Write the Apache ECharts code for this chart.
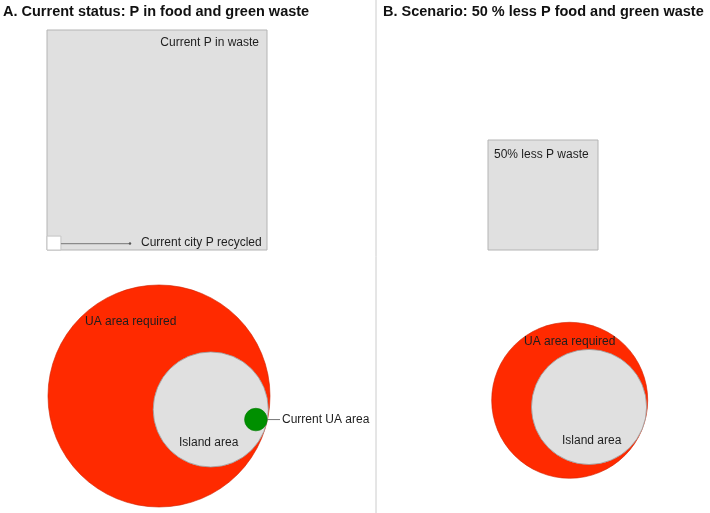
<!DOCTYPE html>
<html><head><meta charset="utf-8">
<script src="https://cdn.jsdelivr.net/npm/echarts@6/dist/echarts.min.js"></script>
<style>html,body{margin:0;padding:0;background:#fff}#c{width:710px;height:513px}</style>
</head><body><div id="c"></div>
<script>
// ---------- data (areas in % of current P in waste) ----------
const panelTitles = ['A. Current status: P in food and green waste', 'B. Scenario: 50 % less P food and green waste'];
const wasteLabels = ['Current P in waste', '50% less P waste'];
const pInWaste = [100, 25];
const recycledLabel = 'Current city P recycled';
const pRecycled = [0.4];
const uaLabels = ['UA area required', 'UA area required'];
const uaRequired = [80, 39.5];
const islandLabels = ['Island area', 'Island area'];
const islandArea = [21.5, 21.5];
const currentUALabel = 'Current UA area';
const currentUA = [0.83];

// ---------- layout ----------
const W = 710, H = 513;
const AREA_UNIT = 484;            // axis units^2 per value unit
const FONT = '12px "Liberation Sans", Arial, sans-serif';
const TXT = '#1e1e1e';
const L = {
  squareLeft: [47, 488], squareBottom: 250,
  wasteLabelOff: [[-8, 13, 'right', 'tr'], [6, 15, 'left', 'tl']],
  recycledLeaderEnd: 130, recycledLabelX: 141,
  circleCenter: [[159, 396], [569.7, 400.3]],
  islandAngle: [14.6, 19],
  greenAngle: 12.6,
  uaLabelPos: [[85, 322], [524, 342]],
  islandLabelPos: [[179, 443], [562, 441]],
  greenLeaderEnd: 280, greenLabelX: 282,
  dividerX: 376, titleX: [3, 383]
};
const side = v => Math.sqrt(v * AREA_UNIT);
const radius = v => Math.sqrt(v * AREA_UNIT / Math.PI);
function islandCenter(i) {
  const c = L.circleCenter[i], d = radius(uaRequired[i]) - radius(islandArea[i]);
  const a = L.islandAngle[i] * Math.PI / 180;
  return [c[0] + d * Math.cos(a), c[1] + d * Math.sin(a)];
}
function greenCenter() {
  const c = islandCenter(0), d = radius(islandArea[0]) - radius(currentUA[0]);
  const a = L.greenAngle * Math.PI / 180;
  return [c[0] + d * Math.cos(a), c[1] + d * Math.sin(a)];
}
function txt(text, p, align) {
  return { type: 'text', style: { text: text, x: p[0], y: p[1], font: FONT, fill: TXT, align: align || 'left', verticalAlign: 'middle' } };
}

const chart = echarts.init(document.getElementById('c'), null, { renderer: 'canvas' });
chart.setOption({
  animation: false,
  backgroundColor: '#fff',
  title: panelTitles.map((t, i) => ({
    text: t, left: L.titleX[i], top: 4, padding: 0,
    textStyle: { fontSize: 14.5, fontWeight: 'bold', fontFamily: '"Liberation Sans", Arial, sans-serif', color: '#111' }
  })),
  graphic: [{ type: 'line', shape: { x1: L.dividerX, y1: 0, x2: L.dividerX, y2: H }, style: { stroke: '#cccccc', lineWidth: 1 } }],
  grid: { left: 0, right: 0, top: 0, bottom: 0 },
  xAxis: { type: 'value', min: 0, max: W, show: false },
  yAxis: { type: 'value', min: 0, max: H, inverse: true, show: false },
  series: [
    { // waste squares
      type: 'custom', clip: false,
      data: pInWaste.map((v, i) => [L.squareLeft[i], L.squareBottom, v, i]),
      renderItem: (params, api) => {
        const x = api.value(0), y = api.value(1), v = api.value(2), i = api.value(3);
        const s = side(v);
        const tl = api.coord([x, y - s]), sz = api.size([s, s]);
        const o = L.wasteLabelOff[i];
        const ax = o[3] === 'tr' ? tl[0] + sz[0] : tl[0];
        return { type: 'group', children: [
          { type: 'rect', shape: { x: tl[0], y: tl[1], width: sz[0], height: sz[1] }, style: { fill: '#e0e0e0', stroke: '#b4b4b4', lineWidth: 1 } },
          txt(wasteLabels[i], [ax + o[0], tl[1] + o[1]], o[2])
        ] };
      }
    },
    { // recycled square
      type: 'custom', clip: false,
      data: pRecycled.map(v => [L.squareLeft[0], L.squareBottom, v]),
      renderItem: (params, api) => {
        const x = api.value(0), y = api.value(1), v = api.value(2);
        const s = side(v);
        const tl = api.coord([x, y - s]), sz = api.size([s, s]);
        const my = tl[1] + sz[1] / 2 + 0.5;
        const end = api.coord([L.recycledLeaderEnd, 0])[0];
        return { type: 'group', children: [
          { type: 'rect', shape: { x: tl[0], y: tl[1], width: sz[0], height: sz[1] }, style: { fill: '#ffffff', stroke: '#c4c4c4', lineWidth: 1 } },
          { type: 'line', shape: { x1: tl[0] + sz[0], y1: my, x2: end, y2: my }, style: { stroke: '#8a8a8a', lineWidth: 1.3 } },
          { type: 'circle', shape: { cx: end, cy: my, r: 1.2 }, style: { fill: '#555' } },
          txt(recycledLabel, [api.coord([L.recycledLabelX, 0])[0], my - 0.5], 'left')
        ] };
      }
    },
    { // UA area required
      type: 'custom', clip: false,
      data: uaRequired.map((v, i) => [L.circleCenter[i][0], L.circleCenter[i][1], v, i]),
      renderItem: (params, api) => {
        const c = api.coord([api.value(0), api.value(1)]), i = api.value(3);
        const r = api.size([radius(api.value(2)), 0])[0];
        return { type: 'group', children: [
          { type: 'circle', shape: { cx: c[0], cy: c[1], r: r }, style: { fill: '#ff2a00', stroke: '#d02200', lineWidth: 0.6 } },
          txt(uaLabels[i], api.coord(L.uaLabelPos[i]), 'left')
        ] };
      }
    },
    { // island area
      type: 'custom', clip: false,
      data: islandArea.map((v, i) => { const c = islandCenter(i); return [c[0], c[1], v, i]; }),
      renderItem: (params, api) => {
        const c = api.coord([api.value(0), api.value(1)]), i = api.value(3);
        const r = api.size([radius(api.value(2)), 0])[0];
        return { type: 'group', children: [
          { type: 'circle', shape: { cx: c[0], cy: c[1], r: r }, style: { fill: '#e0e0e0', stroke: '#9a9a9a', lineWidth: 0.8 } },
          txt(islandLabels[i], api.coord(L.islandLabelPos[i]), 'left')
        ] };
      }
    },
    { // current UA area
      type: 'custom', clip: false,
      data: currentUA.map(v => { const c = greenCenter(); return [c[0], c[1], v]; }),
      renderItem: (params, api) => {
        const c = api.coord([api.value(0), api.value(1)]);
        const r = api.size([radius(api.value(2)), 0])[0];
        const end = api.coord([L.greenLeaderEnd, 0])[0];
        return { type: 'group', children: [
          { type: 'line', shape: { x1: c[0] + r, y1: c[1], x2: end, y2: c[1] }, style: { stroke: '#777', lineWidth: 1 } },
          { type: 'circle', shape: { cx: c[0], cy: c[1], r: r }, style: { fill: '#008f00', stroke: '#007a00', lineWidth: 0.6 } },
          txt(currentUALabel, [api.coord([L.greenLabelX, 0])[0], c[1]], 'left')
        ] };
      }
    }
  ]
});
</script>
</body></html>
